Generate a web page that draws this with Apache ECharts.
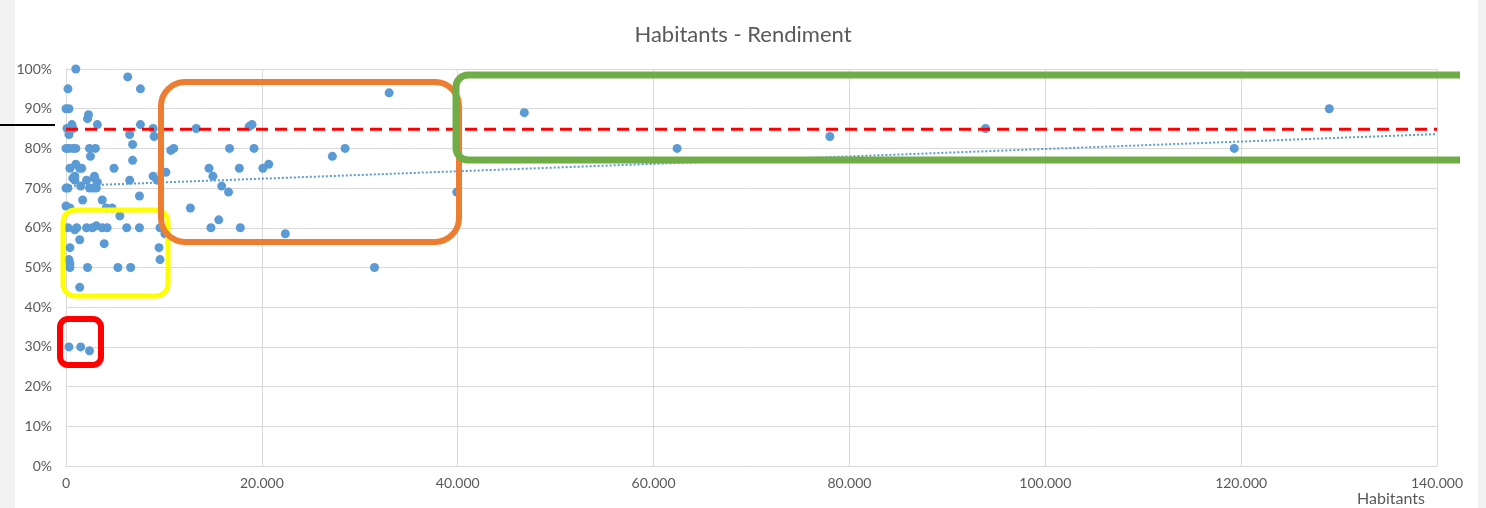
<!DOCTYPE html>
<html>
<head>
<meta charset="utf-8">
<title>Habitants - Rendiment</title>
<script src="https://cdn.jsdelivr.net/npm/echarts@6/dist/echarts.min.js"></script>
<style>
    html, body { margin: 0; padding: 0; background: #f2f2f2; }
    #chart { width: 1486px; height: 508px; }
</style>
</head>
<body>
<div id="chart"></div>
<script>
// habitants / rendiment (%)
const habitants = [
    1000, 200, 0, 300, 6300, 7600, 2300, 2200, 3200, 600,
    700, 100, 7600, 6500, 6800, 300, 8900, 9000, 0, 300,
    700, 1000, 2400, 3000, 2500, 4900, 6800, 400, 1000, 1400,
    700, 900, 1500, 6500, 2100, 2900, 3200, 3100, 0, 200,
    2400, 2800, 8900, 9300, 9800, 3700, 1700, 7500, 4100, 4700,
    0, 400, 5500, 200, 900, 1100, 2100, 2700, 3100, 3700,
    4200, 6200, 7500, 9600, 10100, 1400, 3900, 400, 9500, 9600,
    300, 400, 400, 2200, 5300, 6600, 1400, 300, 1500, 2400,
    13300, 18700, 19000, 10700, 11000, 16700, 19200, 28500, 27200, 14600,
    15000, 17700, 20100, 20700, 15900, 16600, 12700, 15600, 14800, 17800,
    22400, 31500, 33000, 39900, 10200, 1600, 900, 2900,
    46800, 62400, 78000, 93900, 119300, 129000
];
const rendiment = [
    100, 95, 90, 90, 98, 95, 88.5, 87.5, 86, 86,
    85, 85, 86, 83.5, 81, 83.5, 85, 83, 80, 80,
    80, 80, 80, 80, 78, 75, 77, 75, 76, 75,
    72.5, 72, 70.5, 72, 72, 73, 71.5, 70, 70, 70,
    70, 70, 73, 72, 74, 67, 67, 68, 65, 65,
    65.5, 65, 63, 60, 59.5, 60, 60, 60, 60.5, 60,
    60, 60, 60, 60, 58.5, 57, 56, 55, 55, 52,
    52, 51, 50, 50, 50, 50, 45, 30, 30, 29,
    85, 85.5, 86, 79.5, 80, 80, 80, 80, 78, 75,
    73, 75, 75, 76, 70.5, 69, 65, 62, 60, 60,
    58.5, 50, 94, 69, 74, 75, 73, 72.5,
    89, 80, 83, 85, 80, 90
];

// trend line ends and the target level
const trendX = [0, 140000];
const trendY = [70.5, 83.6];
const targetX = [0, 140000];
const targetY = [84.8, 84.8];

const xTicks = [0, 20000, 40000, 60000, 80000, 100000, 120000, 140000];

const fmtThousands = (v) => String(v).replace(/\B(?=(\d{3})+(?!\d))/g, ".");

const chart = echarts.init(document.getElementById("chart"));
const txt = "#595959";
const grid = "#d9d9d9";
const font = "Lato";

let options = {
    animation: false,
    backgroundColor: "#ffffff",
    textStyle: { fontFamily: font },
    title: {
        text: "Habitants - Rendiment",
        left: "center",
        top: 19,
        textStyle: { color: txt, fontSize: 22, fontWeight: "normal", fontFamily: font },
    },
    grid: {
        left: 66,
        right: 49,
        top: 69,
        bottom: 42,
    },
    xAxis: {
        type: "value",
        min: xTicks[0],
        max: xTicks[xTicks.length - 1],
        interval: 20000,
        name: "Habitants",
        nameLocation: "end",
        nameGap: -12,
        nameTextStyle: {
            color: txt,
            fontSize: 16,
            align: "right",
            verticalAlign: "top",
            padding: [25, 0, 0, 0],
        },
        axisLine: { show: true, lineStyle: { color: grid, width: 1 } },
        axisTick: { show: false },
        axisLabel: {
            color: txt,
            fontSize: 14,
            margin: 10,
            formatter: (v) => fmtThousands(v),
        },
        splitLine: { show: true, lineStyle: { color: grid, width: 1 } },
    },
    yAxis: {
        type: "value",
        min: 0,
        max: 100,
        interval: 10,
        axisLine: { show: true, lineStyle: { color: grid, width: 1 } },
        axisTick: { show: false },
        axisLabel: { color: txt, fontSize: 14, margin: 14, formatter: "{value}%" },
        splitLine: { show: true, lineStyle: { color: grid, width: 1 } },
    },
    series: [
        {
            type: "line",
            data: trendX.map((x, i) => [x, trendY[i]]),
            symbol: "none",
            lineStyle: { color: "#5b9bd5", width: 2, type: [2, 2] },
            z: 1,
        },
        {
            type: "scatter",
            data: habitants.map((h, i) => [h, rendiment[i]]),
            symbolSize: 9,
            itemStyle: { color: "#5b9bd5", opacity: 1 },
            z: 2,
        },
        {
            type: "line",
            data: targetX.map((x, i) => [x, targetY[i]]),
            symbol: "none",
            lineStyle: { color: "#ff0000", width: 3, type: [12, 7] },
            z: 3,
        },
    ],
    graphic: [
        // highlight boxes
        {
            type: "rect", z: 100,
            shape: { x: 60, y: 319, width: 41, height: 46, r: 8 },
            style: { fill: "none", stroke: "#ff0000", lineWidth: 6 },
        },
        {
            type: "rect", z: 100,
            shape: { x: 63, y: 210, width: 105, height: 86, r: 12 },
            style: { fill: "none", stroke: "#ffff00", lineWidth: 5 },
        },
        {
            type: "rect", z: 100,
            shape: { x: 161, y: 82, width: 298, height: 160, r: 24 },
            style: { fill: "none", stroke: "#ed7d31", lineWidth: 6 },
        },
        // green box runs off to the right, its end is cut by a white patch
        {
            type: "rect", z: 101,
            shape: { x: 456, y: 75, width: 1200, height: 85, r: [12, 0, 0, 12] },
            style: { fill: "none", stroke: "#70ad47", lineWidth: 7 },
        },
        { type: "rect", z: 102, shape: { x: 1460, y: 60, width: 18, height: 120 }, style: { fill: "#ffffff" } },
        // grey page strips
        { type: "rect", z: 103, shape: { x: 0, y: 0, width: 15, height: 508 }, style: { fill: "#f2f2f2" } },
        { type: "rect", z: 103, shape: { x: 1478, y: 0, width: 8, height: 508 }, style: { fill: "#f2f2f2" } },
        // stray black line on the left
        { type: "line", z: 104, shape: { x1: 0, y1: 125, x2: 55, y2: 125 }, style: { stroke: "#000", lineWidth: 2 } },
    ],
};

chart.setOption(options);
</script>
</body>
</html>
